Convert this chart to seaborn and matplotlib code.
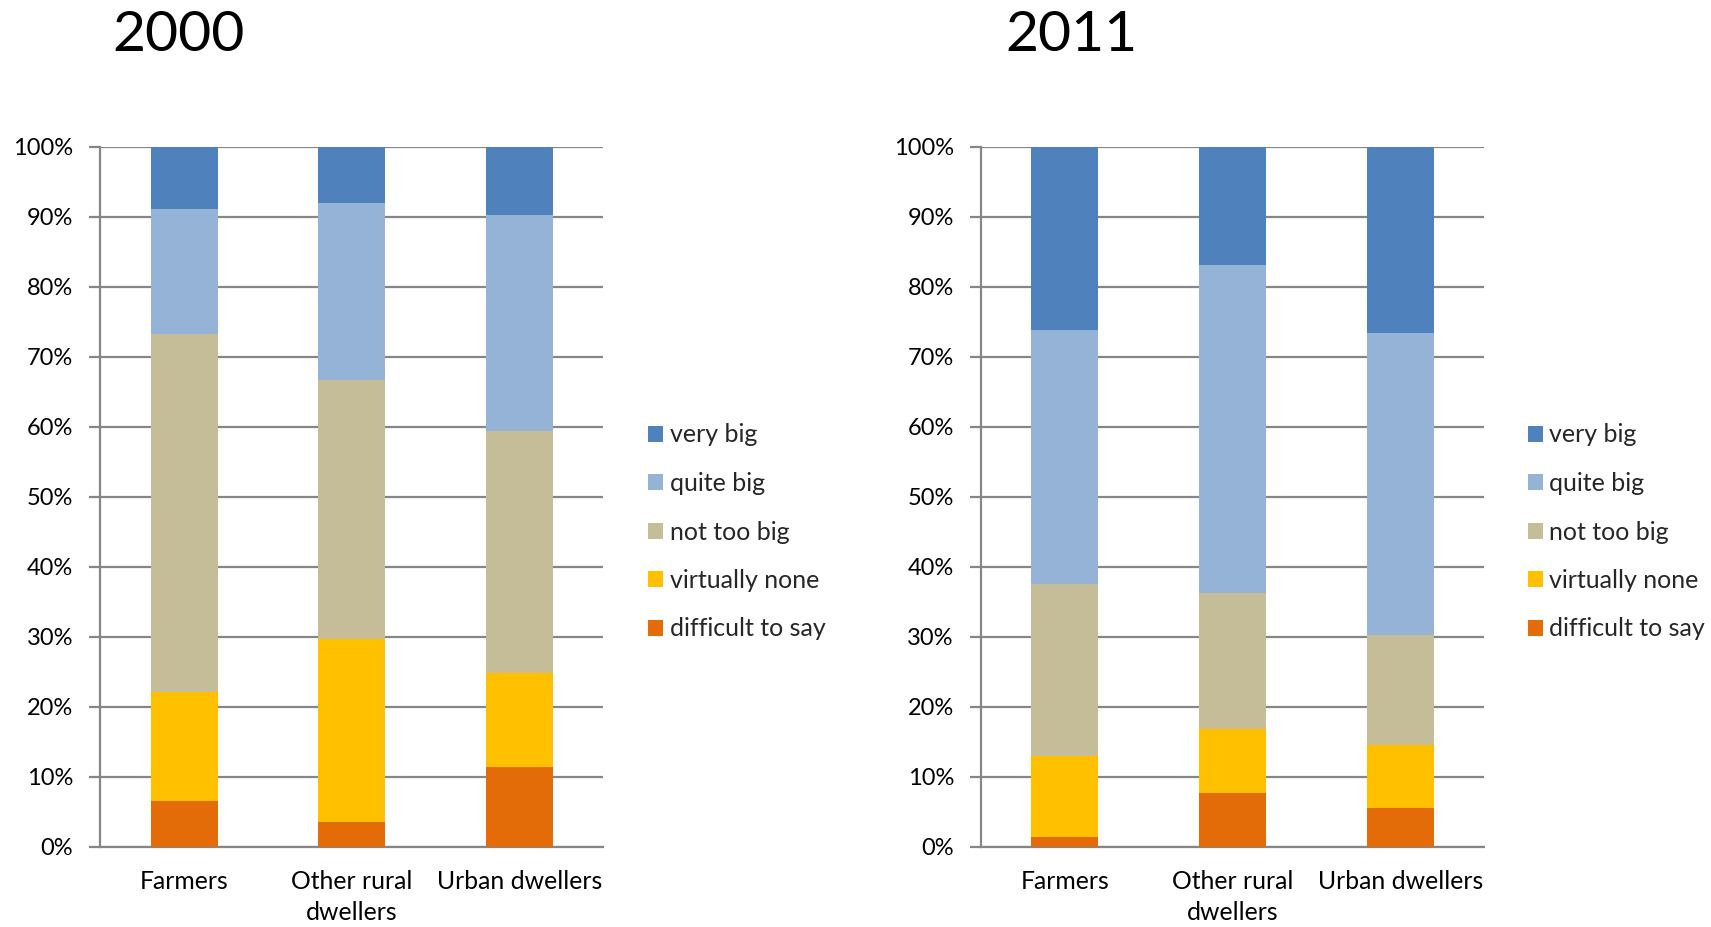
import numpy as np
import pandas as pd
import matplotlib
matplotlib.use("Agg")
import matplotlib.pyplot as plt
from matplotlib.patches import Patch
import seaborn as sns

# Survey shares (%) by group, listed bottom-to-top of each stack
groups = ["Farmers", "Other rural\ndwellers", "Urban dwellers"]
answers = ["difficult to say", "virtually none", "not too big", "quite big", "very big"]
colors = ["#E36C09", "#FFC000", "#C4BD97", "#95B3D7", "#4F81BD"]

years = ["2000", "2011"]
difficult_2000 = [6.5, 3.5, 11.4]
none_2000 = [15.6, 26.2, 13.4]
nottoo_2000 = [51.2, 37.0, 34.6]
quite_2000 = [17.8, 25.25, 30.9]
very_2000 = [8.9, 8.05, 9.7]

difficult_2011 = [1.4, 7.7, 5.6]
none_2011 = [11.6, 9.1, 8.9]
nottoo_2011 = [24.6, 19.5, 15.8]
quite_2011 = [36.2, 46.8, 43.1]
very_2011 = [26.2, 16.9, 26.6]

series = {
    "2000": [difficult_2000, none_2000, nottoo_2000, quite_2000, very_2000],
    "2011": [difficult_2011, none_2011, nottoo_2011, quite_2011, very_2011],
}

sns.set_style("white")
plt.rcParams["font.family"] = ["Lato", "DejaVu Sans"]

W, H = 1711, 927
fig = plt.figure(figsize=(W / 100, H / 100), dpi=100)
grey = "#868686"


def draw_panel(ax, year):
    vals = np.array(series[year])
    cum = np.cumsum(vals, axis=0)
    # draw cumulative totals from the top layer down so each layer overlays the one above
    for i in range(len(answers) - 1, -1, -1):
        df = pd.DataFrame({"group": groups, "value": cum[i]})
        sns.barplot(data=df, x="group", y="value", color=colors[i], width=0.4,
                    saturation=1, linewidth=0, ax=ax, zorder=3)
    ax.set_ylim(0, 100)
    ax.set_xlim(-0.5, 2.5)
    ax.set_yticks(np.arange(0, 101, 10))
    ax.set_yticklabels([f"{v}%" for v in range(0, 101, 10)])
    ax.yaxis.grid(True, color=grey, linewidth=1.6, zorder=0)
    ax.xaxis.grid(False)
    ax.set_axisbelow(True)
    ax.set_xlabel("")
    ax.set_ylabel("")
    for side in ["top", "right"]:
        ax.spines[side].set_visible(False)
    for side in ["left", "bottom"]:
        ax.spines[side].set_color(grey)
        ax.spines[side].set_linewidth(1.6)
    ax.set_xticks([0, 1, 2])
    ax.set_xticklabels(groups, linespacing=1.4)
    ax.set_xticks([-0.5, 0.5, 1.5, 2.5], minor=True)
    ax.tick_params(axis="x", which="major", length=0, pad=17, labelsize=17.8, labelcolor="black")
    ax.tick_params(axis="x", which="minor", length=8, width=1.6, color=grey, direction="out")
    ax.tick_params(axis="y", which="major", length=8, width=1.6, color=grey, direction="out",
                   left=True, pad=11.5, labelsize=17, labelcolor="black")


handles = [Patch(facecolor=c, edgecolor="none") for c in colors[::-1]]
labels = answers[::-1]

panels = [
    (100.4, "2000", 112, 648),
    (981, "2011", 1005, 1527.7),
]
for x0, year, title_x, leg_x in panels:
    ax = fig.add_axes([x0 / W, (H - 846.7) / H, 503 / W, 700 / H])
    draw_panel(ax, year)
    fig.text(title_x / W, 1 - 51 / H, year, fontsize=41, color="black",
             ha="left", va="baseline")
    fig.legend(handles, labels, loc="center left",
               bbox_to_anchor=(leg_x / W, 1 - 532 / H), frameon=False,
               fontsize=18, handlelength=0.6, handleheight=0.6,
               handletextpad=0.26, labelspacing=1.02, borderpad=0, borderaxespad=0)

fig.savefig("out.png", dpi=100, facecolor="white")
